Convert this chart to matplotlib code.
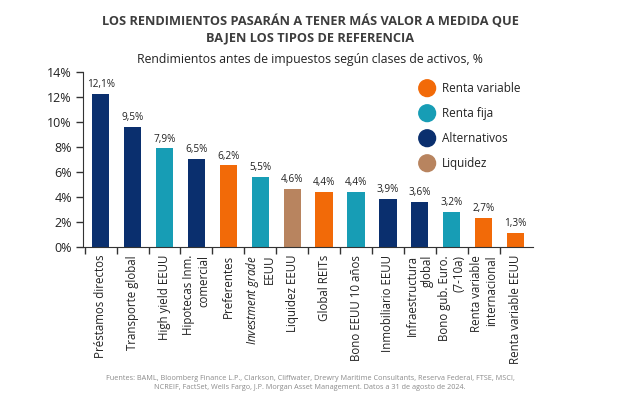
import matplotlib.pyplot as plt
from matplotlib.patches import Ellipse
import numpy as np

plt.rcParams['font.family'] = ['Open Sans', 'DejaVu Sans']
plt.rcParams['mathtext.fontset'] = 'custom'
plt.rcParams['mathtext.it'] = 'Open Sans:italic'
plt.rcParams['mathtext.rm'] = 'Open Sans'

# data
categories = [
    "Préstamos directos", "Transporte global", "High yield EEUU",
    "Hipotecas Inm.\ncomercial", "Preferentes",
    r"$\mathit{Investment}$ $\mathit{grade}$" + "\nEEUU", "Liquidez EEUU",
    "Global REITs", "Bono EEUU 10 años", "Inmobiliario EEUU",
    "Infraestructura\nglobal", "Bono gub. Euro.\n(7-10a)",
    "Renta variable\ninternacional", "Renta variable EEUU",
]
bar_values = [12.2, 9.55, 7.85, 7.0, 6.5, 5.55, 4.6, 4.35, 4.35, 3.8, 3.55, 2.8, 2.3, 1.1]
value_labels = ["12,1%", "9,5%", "7,9%", "6,5%", "6,2%", "5,5%", "4,6%",
                "4,4%", "4,4%", "3,9%", "3,6%", "3,2%", "2,7%", "1,3%"]
groups = ["Alternativos", "Alternativos", "Renta fija", "Alternativos", "Renta variable",
          "Renta fija", "Liquidez", "Renta variable", "Renta fija", "Alternativos",
          "Alternativos", "Renta fija", "Renta variable", "Renta variable"]

colors = {
    "Renta variable": "#f26a08",
    "Renta fija": "#179db5",
    "Alternativos": "#0a2f6e",
    "Liquidez": "#b8845f",
}
txt = "#222222"

fig = plt.figure(figsize=(6.2, 3.99), dpi=100)
ax = fig.add_axes([0.134, 0.382, 0.726, 0.4386])

x = np.arange(len(categories))
ax.bar(x, bar_values, width=0.54, color=[colors[g] for g in groups])
for xi, v, lab in zip(x, bar_values, value_labels):
    ax.text(xi, v + 0.3, lab, ha="center", va="bottom", fontsize=7.2, color=txt)

ax.set_xlim(-0.55, len(categories) - 0.45)
ax.set_ylim(0, 14)
ax.set_yticks(np.arange(0, 15, 2))
ax.set_yticklabels([f"{t}%" for t in range(0, 15, 2)], fontsize=9, color=txt)

# ticks between the bars, labels under the bars
ax.set_xticks(x - 0.5)
ax.set_xticklabels([])
ax.set_xticks(x, minor=True)
ax.set_xticklabels(categories, minor=True, rotation=90, fontsize=8.3, color=txt,
                   ha="center", va="top", multialignment="right")
ax.tick_params(axis="x", which="minor", length=0, pad=6)
ax.tick_params(axis="x", which="major", length=5, width=1, color="#333333")
ax.tick_params(axis="y", length=5, width=1, color="#333333", pad=3)

for s in ["top", "right"]:
    ax.spines[s].set_visible(False)
ax.spines["left"].set_color("#333333")
ax.spines["bottom"].set_color("#333333")

# legend with round markers
for i, name in enumerate(colors):
    yy = 0.779 - i * 0.0627
    fig.patches.append(Ellipse((0.689, yy), 0.027, 0.042, transform=fig.transFigure,
                               figure=fig, color=colors[name]))
    fig.text(0.713, yy, name, fontsize=8.5, color=txt, va="center", ha="left")

fig.text(0.5, 0.926, "LOS RENDIMIENTOS PASARÁN A TENER MÁS VALOR A MEDIDA QUE\nBAJEN LOS TIPOS DE REFERENCIA",
         ha="center", va="center", fontsize=9.2, fontweight="bold", color="#3d3d3d",
         linespacing=1.4)
fig.text(0.5, 0.852, "Rendimientos antes de impuestos según clases de activos, %",
         ha="center", va="center", fontsize=8.8, color=txt)
fig.text(0.5, 0.04,
         "Fuentes: BAML, Bloomberg Finance L.P., Clarkson, Cliffwater, Drewry Maritime Consultants, Reserva Federal, FTSE, MSCI,\n"
         "NCREIF, FactSet, Wells Fargo, J.P. Morgan Asset Management. Datos a 31 de agosto de 2024.",
         ha="center", va="center", fontsize=5.2, color="#8a8a8a", linespacing=1.5)

fig.savefig("out.png", dpi=100)
